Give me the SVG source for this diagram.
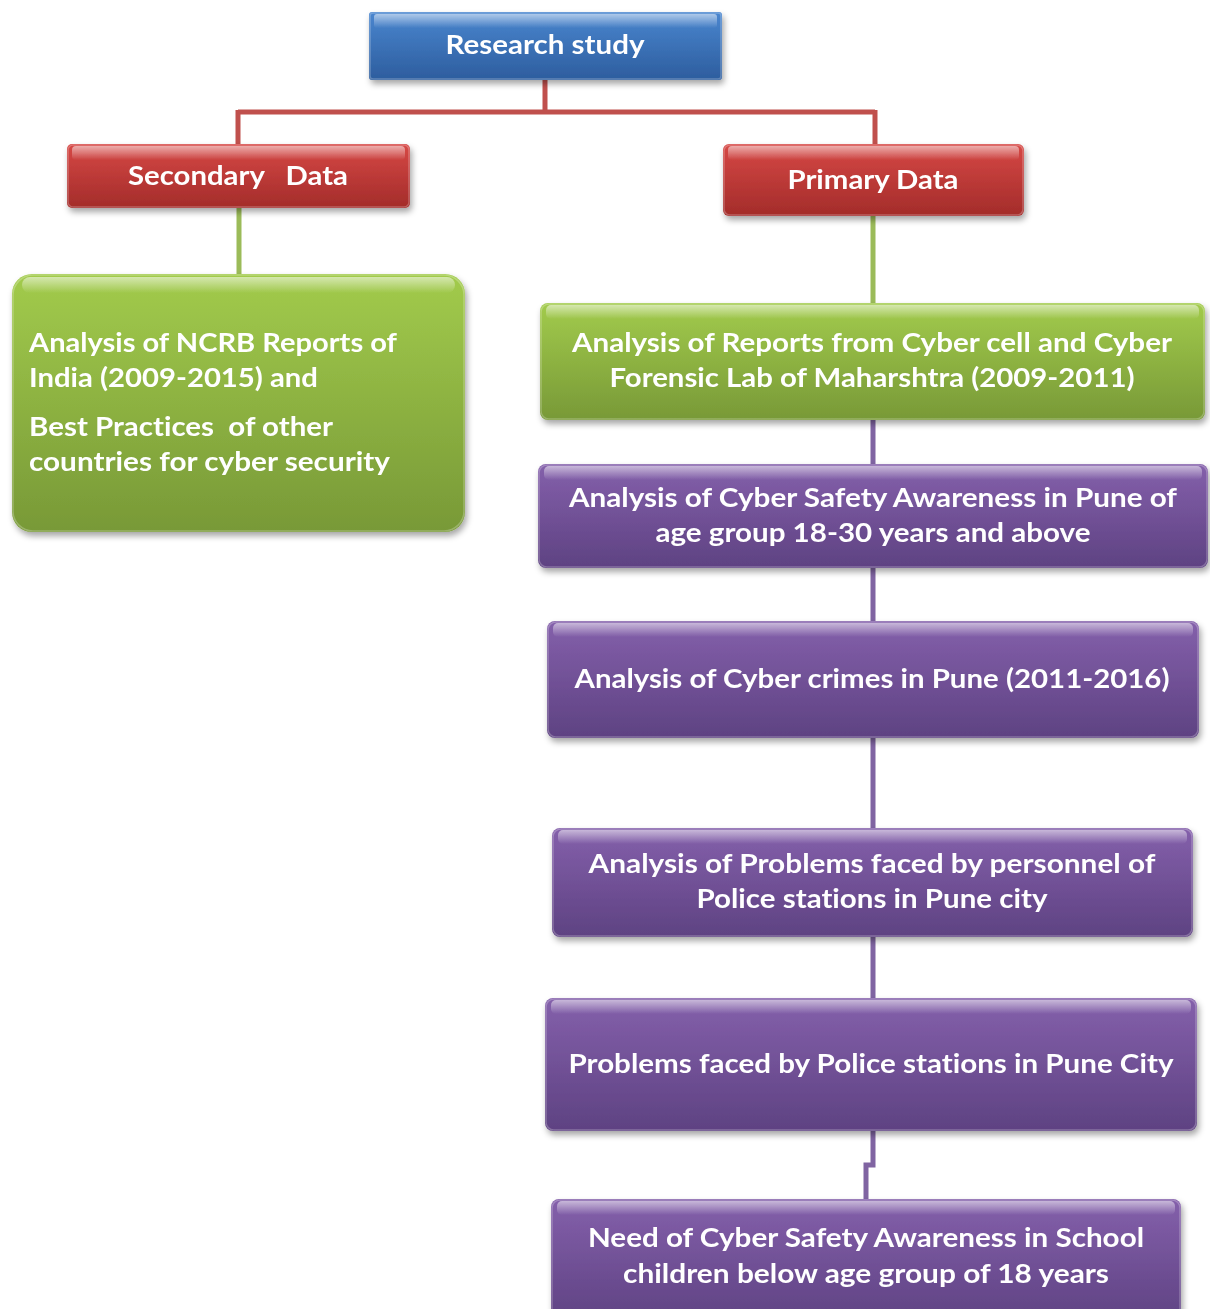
<svg xmlns="http://www.w3.org/2000/svg" width="1210" height="1309" viewBox="0 0 1210 1309">
<defs>
<linearGradient id="gBlue" x1="0" y1="0" x2="0" y2="1"><stop offset="0" stop-color="#4a86cf"/><stop offset="1" stop-color="#2d5d9e"/></linearGradient>
<linearGradient id="gRed" x1="0" y1="0" x2="0" y2="1"><stop offset="0" stop-color="#d64845"/><stop offset="1" stop-color="#a32c2a"/></linearGradient>
<linearGradient id="gGreen" x1="0" y1="0" x2="0" y2="1"><stop offset="0" stop-color="#a2cb4c"/><stop offset="1" stop-color="#789937"/></linearGradient>
<linearGradient id="gPurple" x1="0" y1="0" x2="0" y2="1"><stop offset="0" stop-color="#8460ab"/><stop offset="1" stop-color="#5e4282"/></linearGradient>
<linearGradient id="shine" x1="0" y1="0" x2="0" y2="1"><stop offset="0" stop-color="#fff" stop-opacity="0.55"/><stop offset="1" stop-color="#fff" stop-opacity="0"/></linearGradient>
<filter id="sh" x="-5%" y="-10%" width="110%" height="130%"><feDropShadow dx="2" dy="4" stdDeviation="3" flood-color="#000" flood-opacity="0.35"/></filter>
</defs>
<style>
text{font-family:Lato,"Open Sans","Liberation Sans",sans-serif;font-weight:bold;fill:#fff;font-size:26px;font-variant-ligatures:none}
.c{text-anchor:middle}
.hl{fill:url(#shine)}
.edge{fill:none;stroke:#fff;stroke-opacity:0.25;stroke-width:1.5}
.conn{fill:none;stroke-width:5}
</style>
<g id="connectors">
<path class="conn" stroke="#c0504d" d="M545,80 V112 M238,112 H875 M238,110 V146 M875,110 V146"/>
<path class="conn" stroke="#9bbb59" d="M239,208 V276 M873,216 V305"/>
<path class="conn" stroke="#8064a2" d="M873,420 V466 M873,568 V623 M873,738 V830 M873,937 V1000 M873,1131 V1165 H866 V1201"/>
</g>
<g id="n-research" filter="url(#sh)">
<rect x="369" y="12" width="353" height="68" rx="3" fill="url(#gBlue)"/>
<rect x="374" y="14" width="343" height="14" rx="3" class="hl"/>
<rect x="370" y="13" width="351" height="66" rx="3" class="edge"/>
<text class="c" x="545" y="54" textLength="199" lengthAdjust="spacingAndGlyphs">Research study</text>
</g>
<g id="n-secondary" filter="url(#sh)">
<rect x="67" y="144" width="343" height="64" rx="5" fill="url(#gRed)"/>
<rect x="72" y="146" width="333" height="14" rx="4" class="hl"/>
<rect x="68" y="145" width="341" height="62" rx="5" class="edge"/>
<text class="c" x="238" y="185" textLength="220" lengthAdjust="spacingAndGlyphs" xml:space="preserve">Secondary   Data</text>
</g>
<g id="n-primary" filter="url(#sh)">
<rect x="723" y="144" width="301" height="72" rx="6" fill="url(#gRed)"/>
<rect x="728" y="146" width="291" height="14" rx="4" class="hl"/>
<rect x="724" y="145" width="299" height="70" rx="6" class="edge"/>
<text class="c" x="873" y="189" textLength="171" lengthAdjust="spacingAndGlyphs">Primary Data</text>
</g>
<g id="n-ncrb" filter="url(#sh)">
<rect x="12" y="274" width="453" height="258" rx="20" fill="url(#gGreen)"/>
<rect x="22" y="277" width="433" height="16" rx="8" class="hl"/>
<rect x="13" y="275" width="451" height="256" rx="20" class="edge"/>
<text x="29" y="352" textLength="368" lengthAdjust="spacingAndGlyphs">Analysis of NCRB Reports of</text>
<text x="29" y="387" textLength="289" lengthAdjust="spacingAndGlyphs">India (2009-2015) and</text>
<text x="29" y="436" textLength="304" lengthAdjust="spacingAndGlyphs" xml:space="preserve">Best Practices  of other</text>
<text x="29" y="471" textLength="361" lengthAdjust="spacingAndGlyphs">countries for cyber security</text>
</g>
<g id="n-cybercell" filter="url(#sh)">
<rect x="540" y="303" width="665" height="117" rx="8" fill="url(#gGreen)"/>
<rect x="546" y="305" width="653" height="14" rx="5" class="hl"/>
<rect x="541" y="304" width="663" height="115" rx="8" class="edge"/>
<text class="c" x="872" y="352" textLength="600" lengthAdjust="spacingAndGlyphs">Analysis of Reports from Cyber cell and Cyber</text>
<text class="c" x="872" y="387" textLength="525" lengthAdjust="spacingAndGlyphs">Forensic Lab of Maharshtra (2009-2011)</text>
</g>
<g id="n-awareness" filter="url(#sh)">
<rect x="538" y="464" width="670" height="104" rx="8" fill="url(#gPurple)"/>
<rect x="544" y="466" width="658" height="14" rx="5" class="hl"/>
<rect x="539" y="465" width="668" height="102" rx="8" class="edge"/>
<text class="c" x="873" y="507" textLength="608" lengthAdjust="spacingAndGlyphs">Analysis of Cyber Safety Awareness in Pune of</text>
<text class="c" x="873" y="542" textLength="435" lengthAdjust="spacingAndGlyphs">age group 18-30 years and above</text>
</g>
<g id="n-crimes" filter="url(#sh)">
<rect x="547" y="621" width="652" height="117" rx="8" fill="url(#gPurple)"/>
<rect x="553" y="623" width="640" height="14" rx="5" class="hl"/>
<rect x="548" y="622" width="650" height="115" rx="8" class="edge"/>
<text class="c" x="872" y="688" textLength="595" lengthAdjust="spacingAndGlyphs">Analysis of Cyber crimes in Pune (2011-2016)</text>
</g>
<g id="n-personnel" filter="url(#sh)">
<rect x="552" y="828" width="641" height="109" rx="8" fill="url(#gPurple)"/>
<rect x="558" y="830" width="629" height="14" rx="5" class="hl"/>
<rect x="553" y="829" width="639" height="107" rx="8" class="edge"/>
<text class="c" x="872" y="873" textLength="567" lengthAdjust="spacingAndGlyphs">Analysis of Problems faced by personnel of</text>
<text class="c" x="872" y="908" textLength="351" lengthAdjust="spacingAndGlyphs">Police stations in Pune city</text>
</g>
<g id="n-problems" filter="url(#sh)">
<rect x="545" y="998" width="652" height="133" rx="8" fill="url(#gPurple)"/>
<rect x="551" y="1000" width="640" height="14" rx="5" class="hl"/>
<rect x="546" y="999" width="650" height="131" rx="8" class="edge"/>
<text class="c" x="871" y="1073" textLength="605" lengthAdjust="spacingAndGlyphs">Problems faced by Police stations in Pune City</text>
</g>
<g id="n-school" filter="url(#sh)">
<rect x="551" y="1199" width="630" height="125" rx="8" fill="url(#gPurple)"/>
<rect x="557" y="1201" width="618" height="14" rx="5" class="hl"/>
<rect x="552" y="1200" width="628" height="123" rx="8" class="edge"/>
<text class="c" x="866" y="1247" textLength="556" lengthAdjust="spacingAndGlyphs">Need of Cyber Safety Awareness in School</text>
<text class="c" x="866" y="1283" textLength="486" lengthAdjust="spacingAndGlyphs">children below age group of 18 years</text>
</g>
</svg>
